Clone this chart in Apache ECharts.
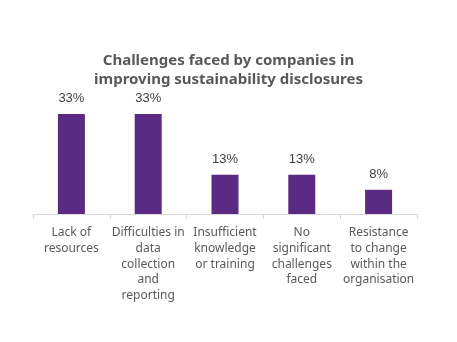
<!DOCTYPE html>
<html><head><meta charset="utf-8">
<script src="https://cdn.jsdelivr.net/npm/echarts@6/dist/echarts.min.js"></script>
<style>html,body{margin:0;padding:0;background:#fff}#c{width:457px;height:342px}</style>
</head><body><div id="c"></div>
<script>
const categories = ['Lack of\nresources','Difficulties in\ndata\ncollection\nand\nreporting','Insufficient\nknowledge\nor training','No\nsignificant\nchallenges\nfaced','Resistance\nto change\nwithin the\norganisation'];
const values = [33, 33, 13, 13, 8];
const titleText = 'Challenges faced by companies in\nimproving sustainability disclosures';
const chart = echarts.init(document.getElementById('c'), null, {renderer:'canvas'});
chart.setOption({
  animation:false,
  title:{text:titleText,left:'center',top:46,textStyle:{fontFamily:'Noto Sans',fontWeight:'bold',fontSize:15,color:'#595959',lineHeight:19}},
  grid:{left:33,right:40,top:108,bottom:128},
  xAxis:{type:'category',data:categories,
    axisLine:{lineStyle:{color:'#d9d9d9'}},
    axisTick:{show:true,length:5,lineStyle:{color:'#d9d9d9'}},
    axisLabel:{interval:0,margin:11,color:'#595959',fontFamily:'Noto Sans',fontSize:12,lineHeight:15.7,align:'center'}},
  yAxis:{type:'value',min:0,max:35,show:false,splitLine:{show:false}},
  series:[{type:'bar',data:values,barWidth:27,itemStyle:{color:'#5b2a83'},
    label:{show:true,position:'top',distance:9,formatter:'{c}%',color:'#404040',fontFamily:'Liberation Sans',fontSize:13}}]
});
</script></body></html>
